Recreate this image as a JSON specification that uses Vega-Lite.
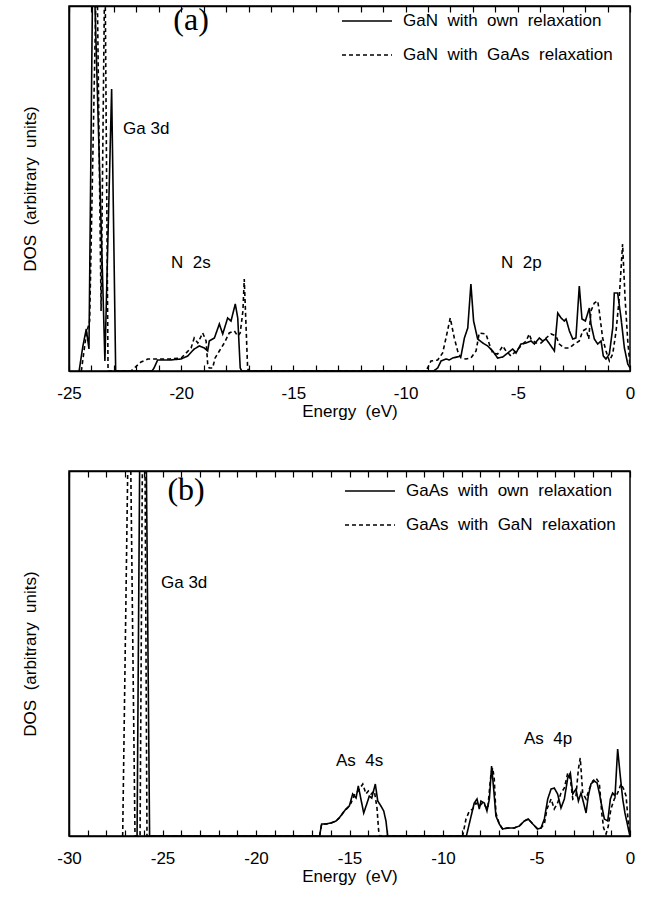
{
  "$schema": "https://vega.github.io/schema/vega-lite/v6.json",
  "background": "white",
  "padding": {"left": 20, "top": -6, "right": 18, "bottom": 5},
  "spacing": 44,
  "resolve": {"scale": {"strokeDash": "independent"}, "legend": {"strokeDash": "independent"}},
  "config": {
    "view": {"stroke": "black", "strokeWidth": 1.5},
    "font": "Liberation Sans",
    "axis": {"domainColor": "black", "domainWidth": 1.5, "tickColor": "black", "tickWidth": 1.2, "labelColor": "black", "titleColor": "black", "labelFont": "Liberation Sans", "titleFont": "Liberation Sans", "labelFontSize": 17, "titleFontSize": 17, "titleFontWeight": "normal", "grid": false},
    "legend": {"title": null, "orient": "none", "symbolType": "stroke", "symbolSize": 2500, "symbolStrokeWidth": 1.6, "symbolStrokeColor": "black", "labelFont": "Liberation Sans", "labelFontSize": 17, "labelColor": "black", "labelOffset": 10, "rowPadding": -28, "labelLimit": 400}
  },
  "datasets": {
    "a": [
      {"E": -24.55, "DOS": 0, "s": "own"}, {"E": -24.38, "DOS": 25, "s": "own"}, {"E": -24.23, "DOS": 42, "s": "own"}, {"E": -24.11, "DOS": 22, "s": "own"}, {"E": -23.93, "DOS": 430, "s": "own"}, {"E": -23.86, "DOS": 380, "s": "own"}, {"E": -23.40, "DOS": 10, "s": "own"}, {"E": -23.10, "DOS": 282, "s": "own"}, {"E": -22.92, "DOS": 0, "s": "own"}, {"E": -21.30, "DOS": 0, "s": "own"}, {"E": -21.21, "DOS": 3, "s": "own"}, {"E": -21.05, "DOS": 11, "s": "own"}, {"E": -20.5, "DOS": 11, "s": "own"}, {"E": -20.01, "DOS": 12, "s": "own"}, {"E": -19.71, "DOS": 15, "s": "own"}, {"E": -19.42, "DOS": 22, "s": "own"}, {"E": -19.19, "DOS": 25, "s": "own"}, {"E": -18.97, "DOS": 23, "s": "own"}, {"E": -18.82, "DOS": 20, "s": "own"}, {"E": -18.75, "DOS": 30, "s": "own"}, {"E": -18.52, "DOS": 33, "s": "own"}, {"E": -18.30, "DOS": 47, "s": "own"}, {"E": -18.15, "DOS": 37, "s": "own"}, {"E": -17.93, "DOS": 53, "s": "own"}, {"E": -17.78, "DOS": 50, "s": "own"}, {"E": -17.59, "DOS": 67, "s": "own"}, {"E": -17.48, "DOS": 53, "s": "own"}, {"E": -17.37, "DOS": 3, "s": "own"}, {"E": -17.30, "DOS": 0, "s": "own"},
      {"E": -8.75, "DOS": 0, "s": "own"}, {"E": -8.57, "DOS": 3, "s": "own"}, {"E": -8.42, "DOS": 10, "s": "own"}, {"E": -8.20, "DOS": 12, "s": "own"}, {"E": -8.05, "DOS": 11, "s": "own"}, {"E": -7.90, "DOS": 13, "s": "own"}, {"E": -7.53, "DOS": 15, "s": "own"}, {"E": -7.38, "DOS": 33, "s": "own"}, {"E": -7.23, "DOS": 43, "s": "own"}, {"E": -7.09, "DOS": 87, "s": "own"}, {"E": -6.97, "DOS": 50, "s": "own"}, {"E": -6.79, "DOS": 32, "s": "own"}, {"E": -6.56, "DOS": 28, "s": "own"}, {"E": -6.34, "DOS": 25, "s": "own"}, {"E": -6.12, "DOS": 20, "s": "own"}, {"E": -5.90, "DOS": 13, "s": "own"}, {"E": -5.67, "DOS": 14, "s": "own"}, {"E": -5.45, "DOS": 18, "s": "own"}, {"E": -5.23, "DOS": 22, "s": "own"}, {"E": -5.08, "DOS": 18, "s": "own"}, {"E": -4.86, "DOS": 27, "s": "own"}, {"E": -4.63, "DOS": 28, "s": "own"}, {"E": -4.41, "DOS": 30, "s": "own"}, {"E": -4.26, "DOS": 27, "s": "own"}, {"E": -4.04, "DOS": 33, "s": "own"}, {"E": -3.89, "DOS": 30, "s": "own"}, {"E": -3.74, "DOS": 32, "s": "own"}, {"E": -3.52, "DOS": 25, "s": "own"}, {"E": -3.37, "DOS": 20, "s": "own"}, {"E": -3.22, "DOS": 58, "s": "own"}, {"E": -3.07, "DOS": 53, "s": "own"}, {"E": -2.93, "DOS": 50, "s": "own"}, {"E": -2.85, "DOS": 52, "s": "own"}, {"E": -2.70, "DOS": 40, "s": "own"}, {"E": -2.55, "DOS": 32, "s": "own"}, {"E": -2.41, "DOS": 33, "s": "own"}, {"E": -2.26, "DOS": 85, "s": "own"}, {"E": -2.14, "DOS": 52, "s": "own"}, {"E": -1.99, "DOS": 50, "s": "own"}, {"E": -1.81, "DOS": 63, "s": "own"}, {"E": -1.74, "DOS": 47, "s": "own"}, {"E": -1.59, "DOS": 32, "s": "own"}, {"E": -1.44, "DOS": 27, "s": "own"}, {"E": -1.29, "DOS": 30, "s": "own"}, {"E": -1.19, "DOS": 15, "s": "own"}, {"E": -1.07, "DOS": 12, "s": "own"}, {"E": -0.92, "DOS": 17, "s": "own"}, {"E": -0.77, "DOS": 43, "s": "own"}, {"E": -0.70, "DOS": 78, "s": "own"}, {"E": -0.55, "DOS": 78, "s": "own"}, {"E": -0.40, "DOS": 53, "s": "own"}, {"E": -0.25, "DOS": 23, "s": "own"}, {"E": -0.10, "DOS": 7, "s": "own"}, {"E": 0, "DOS": 3, "s": "own"},
      {"E": -24.45, "DOS": 0, "s": "alt"}, {"E": -24.23, "DOS": 37, "s": "alt"}, {"E": -24.08, "DOS": 50, "s": "alt"}, {"E": -23.76, "DOS": 420, "s": "alt"}, {"E": -23.57, "DOS": 60, "s": "alt"}, {"E": -23.40, "DOS": 420, "s": "alt"}, {"E": -23.26, "DOS": 0, "s": "alt"}, {"E": -22.24, "DOS": 0, "s": "alt"}, {"E": -21.79, "DOS": 9, "s": "alt"}, {"E": -21.49, "DOS": 12, "s": "alt"}, {"E": -20.5, "DOS": 12, "s": "alt"}, {"E": -20.0, "DOS": 13, "s": "alt"}, {"E": -19.56, "DOS": 23, "s": "alt"}, {"E": -19.42, "DOS": 33, "s": "alt"}, {"E": -19.26, "DOS": 28, "s": "alt"}, {"E": -19.04, "DOS": 38, "s": "alt"}, {"E": -18.89, "DOS": 30, "s": "alt"}, {"E": -18.82, "DOS": 7, "s": "alt"}, {"E": -18.75, "DOS": 3, "s": "alt"}, {"E": -18.60, "DOS": 3, "s": "alt"}, {"E": -18.49, "DOS": 13, "s": "alt"}, {"E": -18.30, "DOS": 20, "s": "alt"}, {"E": -18.08, "DOS": 28, "s": "alt"}, {"E": -17.86, "DOS": 38, "s": "alt"}, {"E": -17.63, "DOS": 40, "s": "alt"}, {"E": -17.48, "DOS": 35, "s": "alt"}, {"E": -17.37, "DOS": 38, "s": "alt"}, {"E": -17.25, "DOS": 60, "s": "alt"}, {"E": -17.19, "DOS": 92, "s": "alt"}, {"E": -17.04, "DOS": 3, "s": "alt"}, {"E": -17.0, "DOS": 0, "s": "alt"},
      {"E": -9.10, "DOS": 0, "s": "alt"}, {"E": -9.02, "DOS": 3, "s": "alt"}, {"E": -8.87, "DOS": 10, "s": "alt"}, {"E": -8.57, "DOS": 11, "s": "alt"}, {"E": -8.35, "DOS": 18, "s": "alt"}, {"E": -8.20, "DOS": 33, "s": "alt"}, {"E": -8.01, "DOS": 53, "s": "alt"}, {"E": -7.83, "DOS": 33, "s": "alt"}, {"E": -7.68, "DOS": 20, "s": "alt"}, {"E": -7.53, "DOS": 13, "s": "alt"}, {"E": -7.31, "DOS": 12, "s": "alt"}, {"E": -7.09, "DOS": 13, "s": "alt"}, {"E": -6.86, "DOS": 20, "s": "alt"}, {"E": -6.72, "DOS": 38, "s": "alt"}, {"E": -6.42, "DOS": 37, "s": "alt"}, {"E": -6.27, "DOS": 27, "s": "alt"}, {"E": -6.12, "DOS": 18, "s": "alt"}, {"E": -5.90, "DOS": 17, "s": "alt"}, {"E": -5.67, "DOS": 25, "s": "alt"}, {"E": -5.53, "DOS": 20, "s": "alt"}, {"E": -5.30, "DOS": 15, "s": "alt"}, {"E": -5.08, "DOS": 20, "s": "alt"}, {"E": -4.86, "DOS": 25, "s": "alt"}, {"E": -4.63, "DOS": 30, "s": "alt"}, {"E": -4.49, "DOS": 37, "s": "alt"}, {"E": -4.41, "DOS": 32, "s": "alt"}, {"E": -4.19, "DOS": 28, "s": "alt"}, {"E": -3.96, "DOS": 28, "s": "alt"}, {"E": -3.74, "DOS": 33, "s": "alt"}, {"E": -3.52, "DOS": 37, "s": "alt"}, {"E": -3.30, "DOS": 35, "s": "alt"}, {"E": -3.15, "DOS": 27, "s": "alt"}, {"E": -2.93, "DOS": 23, "s": "alt"}, {"E": -2.70, "DOS": 23, "s": "alt"}, {"E": -2.48, "DOS": 27, "s": "alt"}, {"E": -2.26, "DOS": 30, "s": "alt"}, {"E": -2.11, "DOS": 40, "s": "alt"}, {"E": -1.96, "DOS": 42, "s": "alt"}, {"E": -1.84, "DOS": 32, "s": "alt"}, {"E": -1.74, "DOS": 60, "s": "alt"}, {"E": -1.59, "DOS": 68, "s": "alt"}, {"E": -1.44, "DOS": 70, "s": "alt"}, {"E": -1.37, "DOS": 60, "s": "alt"}, {"E": -1.22, "DOS": 33, "s": "alt"}, {"E": -1.07, "DOS": 20, "s": "alt"}, {"E": -0.92, "DOS": 10, "s": "alt"}, {"E": -0.77, "DOS": 17, "s": "alt"}, {"E": -0.62, "DOS": 40, "s": "alt"}, {"E": -0.48, "DOS": 73, "s": "alt"}, {"E": -0.33, "DOS": 127, "s": "alt"}, {"E": -0.22, "DOS": 73, "s": "alt"}, {"E": -0.10, "DOS": 30, "s": "alt"}, {"E": 0, "DOS": 5, "s": "alt"}
    ],
    "b": [
      {"E": -26.36, "DOS": 0, "s": "own"}, {"E": -26.15, "DOS": 560, "s": "own"}, {"E": -26.0, "DOS": 420, "s": "own"}, {"E": -25.90, "DOS": 450, "s": "own"}, {"E": -25.69, "DOS": 0, "s": "own"}, {"E": -16.6, "DOS": 0, "s": "own"}, {"E": -16.49, "DOS": 12, "s": "own"}, {"E": -16.26, "DOS": 12, "s": "own"}, {"E": -15.99, "DOS": 13, "s": "own"}, {"E": -15.72, "DOS": 15, "s": "own"}, {"E": -15.55, "DOS": 18, "s": "own"}, {"E": -15.36, "DOS": 23, "s": "own"}, {"E": -15.19, "DOS": 27, "s": "own"}, {"E": -15.01, "DOS": 30, "s": "own"}, {"E": -14.83, "DOS": 42, "s": "own"}, {"E": -14.65, "DOS": 38, "s": "own"}, {"E": -14.53, "DOS": 50, "s": "own"}, {"E": -14.39, "DOS": 37, "s": "own"}, {"E": -14.24, "DOS": 23, "s": "own"}, {"E": -14.06, "DOS": 33, "s": "own"}, {"E": -13.94, "DOS": 40, "s": "own"}, {"E": -13.81, "DOS": 38, "s": "own"}, {"E": -13.62, "DOS": 52, "s": "own"}, {"E": -13.49, "DOS": 35, "s": "own"}, {"E": -13.32, "DOS": 30, "s": "own"}, {"E": -13.17, "DOS": 25, "s": "own"}, {"E": -13.05, "DOS": 15, "s": "own"}, {"E": -12.96, "DOS": 0, "s": "own"},
      {"E": -8.75, "DOS": 0, "s": "own"}, {"E": -8.33, "DOS": 33, "s": "own"}, {"E": -8.18, "DOS": 37, "s": "own"}, {"E": -8.06, "DOS": 27, "s": "own"}, {"E": -7.97, "DOS": 35, "s": "own"}, {"E": -7.79, "DOS": 33, "s": "own"}, {"E": -7.65, "DOS": 25, "s": "own"}, {"E": -7.52, "DOS": 37, "s": "own"}, {"E": -7.40, "DOS": 70, "s": "own"}, {"E": -7.29, "DOS": 47, "s": "own"}, {"E": -7.17, "DOS": 20, "s": "own"}, {"E": -6.99, "DOS": 12, "s": "own"}, {"E": -6.81, "DOS": 7, "s": "own"}, {"E": -6.54, "DOS": 8, "s": "own"}, {"E": -6.19, "DOS": 8, "s": "own"}, {"E": -5.92, "DOS": 10, "s": "own"}, {"E": -5.65, "DOS": 15, "s": "own"}, {"E": -5.44, "DOS": 17, "s": "own"}, {"E": -5.20, "DOS": 12, "s": "own"}, {"E": -4.94, "DOS": 7, "s": "own"}, {"E": -4.76, "DOS": 8, "s": "own"}, {"E": -4.58, "DOS": 17, "s": "own"}, {"E": -4.40, "DOS": 37, "s": "own"}, {"E": -4.22, "DOS": 47, "s": "own"}, {"E": -4.05, "DOS": 48, "s": "own"}, {"E": -3.87, "DOS": 42, "s": "own"}, {"E": -3.69, "DOS": 28, "s": "own"}, {"E": -3.51, "DOS": 37, "s": "own"}, {"E": -3.33, "DOS": 58, "s": "own"}, {"E": -3.19, "DOS": 63, "s": "own"}, {"E": -3.06, "DOS": 42, "s": "own"}, {"E": -2.89, "DOS": 47, "s": "own"}, {"E": -2.76, "DOS": 35, "s": "own"}, {"E": -2.62, "DOS": 43, "s": "own"}, {"E": -2.48, "DOS": 33, "s": "own"}, {"E": -2.35, "DOS": 23, "s": "own"}, {"E": -2.23, "DOS": 40, "s": "own"}, {"E": -2.09, "DOS": 52, "s": "own"}, {"E": -1.91, "DOS": 55, "s": "own"}, {"E": -1.76, "DOS": 53, "s": "own"}, {"E": -1.64, "DOS": 43, "s": "own"}, {"E": -1.51, "DOS": 30, "s": "own"}, {"E": -1.37, "DOS": 17, "s": "own"}, {"E": -1.19, "DOS": 15, "s": "own"}, {"E": -1.05, "DOS": 37, "s": "own"}, {"E": -0.93, "DOS": 43, "s": "own"}, {"E": -0.80, "DOS": 40, "s": "own"}, {"E": -0.66, "DOS": 87, "s": "own"}, {"E": -0.52, "DOS": 60, "s": "own"}, {"E": -0.39, "DOS": 37, "s": "own"}, {"E": -0.27, "DOS": 23, "s": "own"}, {"E": -0.12, "DOS": 10, "s": "own"}, {"E": -0.04, "DOS": 3, "s": "own"}, {"E": 0, "DOS": 0, "s": "own"},
      {"E": -27.13, "DOS": 0, "s": "alt"}, {"E": -26.77, "DOS": 487, "s": "alt"}, {"E": -26.47, "DOS": 0, "s": "alt"}, {"E": -26.20, "DOS": 0, "s": "alt"}, {"E": -26.00, "DOS": 600, "s": "alt"}, {"E": -25.83, "DOS": 0, "s": "alt"}, {"E": -16.6, "DOS": 0, "s": "alt"}, {"E": -16.49, "DOS": 12, "s": "alt"}, {"E": -16.26, "DOS": 12, "s": "alt"}, {"E": -15.99, "DOS": 13, "s": "alt"}, {"E": -15.72, "DOS": 15, "s": "alt"}, {"E": -15.45, "DOS": 20, "s": "alt"}, {"E": -15.28, "DOS": 25, "s": "alt"}, {"E": -15.10, "DOS": 28, "s": "alt"}, {"E": -14.92, "DOS": 33, "s": "alt"}, {"E": -14.71, "DOS": 42, "s": "alt"}, {"E": -14.53, "DOS": 45, "s": "alt"}, {"E": -14.29, "DOS": 52, "s": "alt"}, {"E": -14.12, "DOS": 42, "s": "alt"}, {"E": -13.99, "DOS": 45, "s": "alt"}, {"E": -13.85, "DOS": 42, "s": "alt"}, {"E": -13.67, "DOS": 45, "s": "alt"}, {"E": -13.53, "DOS": 28, "s": "alt"}, {"E": -13.44, "DOS": 5, "s": "alt"}, {"E": -13.39, "DOS": 0, "s": "alt"},
      {"E": -8.95, "DOS": 0, "s": "alt"}, {"E": -8.77, "DOS": 17, "s": "alt"}, {"E": -8.59, "DOS": 25, "s": "alt"}, {"E": -8.41, "DOS": 27, "s": "alt"}, {"E": -8.24, "DOS": 33, "s": "alt"}, {"E": -8.06, "DOS": 30, "s": "alt"}, {"E": -7.88, "DOS": 33, "s": "alt"}, {"E": -7.61, "DOS": 27, "s": "alt"}, {"E": -7.43, "DOS": 63, "s": "alt"}, {"E": -7.34, "DOS": 68, "s": "alt"}, {"E": -7.26, "DOS": 57, "s": "alt"}, {"E": -7.17, "DOS": 23, "s": "alt"}, {"E": -6.99, "DOS": 12, "s": "alt"}, {"E": -6.81, "DOS": 7, "s": "alt"}, {"E": -6.54, "DOS": 8, "s": "alt"}, {"E": -6.19, "DOS": 8, "s": "alt"}, {"E": -5.92, "DOS": 10, "s": "alt"}, {"E": -5.65, "DOS": 15, "s": "alt"}, {"E": -5.44, "DOS": 17, "s": "alt"}, {"E": -5.20, "DOS": 12, "s": "alt"}, {"E": -4.94, "DOS": 7, "s": "alt"}, {"E": -4.76, "DOS": 8, "s": "alt"}, {"E": -4.58, "DOS": 12, "s": "alt"}, {"E": -4.44, "DOS": 27, "s": "alt"}, {"E": -4.22, "DOS": 37, "s": "alt"}, {"E": -4.05, "DOS": 27, "s": "alt"}, {"E": -3.87, "DOS": 33, "s": "alt"}, {"E": -3.69, "DOS": 43, "s": "alt"}, {"E": -3.51, "DOS": 48, "s": "alt"}, {"E": -3.33, "DOS": 63, "s": "alt"}, {"E": -3.19, "DOS": 57, "s": "alt"}, {"E": -3.06, "DOS": 37, "s": "alt"}, {"E": -2.89, "DOS": 40, "s": "alt"}, {"E": -2.76, "DOS": 67, "s": "alt"}, {"E": -2.66, "DOS": 78, "s": "alt"}, {"E": -2.53, "DOS": 43, "s": "alt"}, {"E": -2.35, "DOS": 37, "s": "alt"}, {"E": -2.18, "DOS": 47, "s": "alt"}, {"E": -1.99, "DOS": 55, "s": "alt"}, {"E": -1.82, "DOS": 58, "s": "alt"}, {"E": -1.64, "DOS": 53, "s": "alt"}, {"E": -1.51, "DOS": 23, "s": "alt"}, {"E": -1.41, "DOS": 8, "s": "alt"}, {"E": -1.28, "DOS": 2, "s": "alt"}, {"E": -1.16, "DOS": 10, "s": "alt"}, {"E": -1.02, "DOS": 27, "s": "alt"}, {"E": -0.84, "DOS": 37, "s": "alt"}, {"E": -0.66, "DOS": 43, "s": "alt"}, {"E": -0.48, "DOS": 52, "s": "alt"}, {"E": -0.34, "DOS": 47, "s": "alt"}, {"E": -0.21, "DOS": 40, "s": "alt"}, {"E": -0.09, "DOS": 13, "s": "alt"}, {"E": -0.02, "DOS": 2, "s": "alt"}, {"E": 0, "DOS": 0, "s": "alt"}
    ],
    "ann_a": [
      {"E": -19.56, "DOS": 351, "label": "(a)", "kind": "tag"},
      {"E": -22.59, "DOS": 242, "label": "Ga 3d", "kind": "band"},
      {"E": -20.45, "DOS": 108, "label": "N\u00a0 2s", "kind": "band"},
      {"E": -5.75, "DOS": 108, "label": "N\u00a0 2p", "kind": "band"}
    ],
    "ann_b": [
      {"E": -23.74, "DOS": 346, "label": "(b)", "kind": "tag"},
      {"E": -25.08, "DOS": 253, "label": "Ga 3d", "kind": "band"},
      {"E": -15.72, "DOS": 75, "label": "As\u00a0 4s", "kind": "band"},
      {"E": -5.67, "DOS": 97, "label": "As\u00a0 4p", "kind": "band"}
    ]
  },
  "vconcat": [
    {
      "width": 561,
      "height": 365,
      "resolve": {"axis": {"x": "independent"}},
      "layer": [
        {
          "data": {"name": "a"},
          "mark": {"type": "line", "clip": true, "strokeWidth": 1.6, "color": "black"},
          "encoding": {
            "x": {"field": "E", "type": "quantitative", "scale": {"domain": [-25, 0], "nice": false, "zero": false},
              "axis": {"values": [-25,-24,-23,-22,-21,-20,-19,-18,-17,-16,-15,-14,-13,-12,-11,-10,-9,-8,-7,-6,-5,-4,-3,-2,-1,0], "labelExpr": "datum.value % 5 === 0 ? toString(datum.value) : ''", "tickSize": -6, "labelPadding": 20, "labelFlush": false, "labelOverlap": false, "labelBound": false, "title": "Energy\u00a0 (eV)", "titlePadding": 2}},
            "y": {"field": "DOS", "type": "quantitative", "scale": {"domain": [0, 365], "nice": false},
              "axis": {"labels": false, "ticks": false, "title": "DOS\u00a0 (arbitrary\u00a0 units)", "titlePadding": 30}},
            "strokeDash": {"field": "s", "type": "nominal", "scale": {"domain": ["own", "alt"], "range": [[1, 0], [4, 3]]},
              "legend": {"legendX": 272, "legendY": -11, "labelExpr": "datum.value == 'own' ? 'GaN\u00a0 with\u00a0 own\u00a0 relaxation' : 'GaN\u00a0 with\u00a0 GaAs\u00a0 relaxation'"}}
          }
        },
        {
          "data": {"name": "a"},
          "mark": {"type": "rule", "opacity": 0},
          "encoding": {
            "x": {"field": "E", "type": "quantitative", "axis": {"orient": "top", "values": [-25,-24,-23,-22,-21,-20,-19,-18,-17,-16,-15,-14,-13,-12,-11,-10,-9,-8,-7,-6,-5,-4,-3,-2,-1,0], "labels": false, "tickSize": -6, "title": null}}
          }
        },
        {
          "data": {"name": "ann_a"},
          "transform": [{"filter": "datum.kind === 'band'"}],
          "mark": {"type": "text", "font": "Liberation Sans", "fontSize": 17, "align": "left", "baseline": "middle", "color": "black"},
          "encoding": {
            "x": {"field": "E", "type": "quantitative", "axis": null},
            "y": {"field": "DOS", "type": "quantitative"},
            "text": {"field": "label"}
          }
        },
        {
          "data": {"name": "ann_a"},
          "transform": [{"filter": "datum.kind === 'tag'"}],
          "mark": {"type": "text", "font": "Liberation Serif", "fontSize": 32, "align": "center", "baseline": "middle", "color": "black"},
          "encoding": {
            "x": {"field": "E", "type": "quantitative", "axis": null},
            "y": {"field": "DOS", "type": "quantitative"},
            "text": {"field": "label"}
          }
        }
      ]
    },
    {
      "width": 561,
      "height": 365,
      "resolve": {"axis": {"x": "independent"}},
      "layer": [
        {
          "data": {"name": "b"},
          "mark": {"type": "line", "clip": true, "strokeWidth": 1.6, "color": "black"},
          "encoding": {
            "x": {"field": "E", "type": "quantitative", "scale": {"domain": [-30, 0], "nice": false, "zero": false},
              "axis": {"values": [-30,-29,-28,-27,-26,-25,-24,-23,-22,-21,-20,-19,-18,-17,-16,-15,-14,-13,-12,-11,-10,-9,-8,-7,-6,-5,-4,-3,-2,-1,0], "labelExpr": "datum.value % 5 === 0 ? toString(datum.value) : ''", "tickSize": -6, "labelPadding": 20, "labelFlush": false, "labelOverlap": false, "labelBound": false, "title": "Energy\u00a0 (eV)", "titlePadding": 2}},
            "y": {"field": "DOS", "type": "quantitative", "scale": {"domain": [0, 365], "nice": false},
              "axis": {"labels": false, "ticks": false, "title": "DOS\u00a0 (arbitrary\u00a0 units)", "titlePadding": 30}},
            "strokeDash": {"field": "s", "type": "nominal", "scale": {"domain": ["own", "alt"], "range": [[1, 0], [4, 3]]},
              "legend": {"legendX": 275, "legendY": -6, "labelExpr": "datum.value == 'own' ? 'GaAs\u00a0 with\u00a0 own\u00a0 relaxation' : 'GaAs\u00a0 with\u00a0 GaN\u00a0 relaxation'"}}
          }
        },
        {
          "data": {"name": "b"},
          "mark": {"type": "rule", "opacity": 0},
          "encoding": {
            "x": {"field": "E", "type": "quantitative", "axis": {"orient": "top", "values": [-30,-29,-28,-27,-26,-25,-24,-23,-22,-21,-20,-19,-18,-17,-16,-15,-14,-13,-12,-11,-10,-9,-8,-7,-6,-5,-4,-3,-2,-1,0], "labels": false, "tickSize": -6, "title": null}}
          }
        },
        {
          "data": {"name": "ann_b"},
          "transform": [{"filter": "datum.kind === 'band'"}],
          "mark": {"type": "text", "font": "Liberation Sans", "fontSize": 17, "align": "left", "baseline": "middle", "color": "black"},
          "encoding": {
            "x": {"field": "E", "type": "quantitative", "axis": null},
            "y": {"field": "DOS", "type": "quantitative"},
            "text": {"field": "label"}
          }
        },
        {
          "data": {"name": "ann_b"},
          "transform": [{"filter": "datum.kind === 'tag'"}],
          "mark": {"type": "text", "font": "Liberation Serif", "fontSize": 32, "align": "center", "baseline": "middle", "color": "black"},
          "encoding": {
            "x": {"field": "E", "type": "quantitative", "axis": null},
            "y": {"field": "DOS", "type": "quantitative"},
            "text": {"field": "label"}
          }
        }
      ]
    }
  ]
}
